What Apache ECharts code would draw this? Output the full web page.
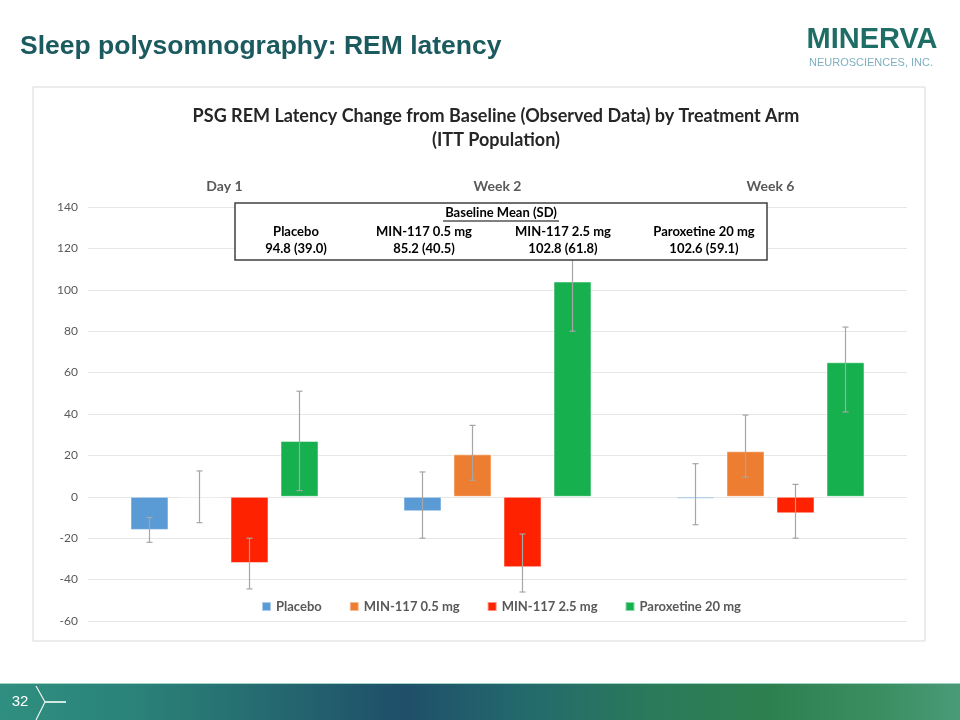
<!DOCTYPE html>
<html><head><meta charset="utf-8">
<script src="https://cdn.jsdelivr.net/npm/echarts@6/dist/echarts.min.js"></script>
<style>html,body{margin:0;padding:0;background:#fff}#c{width:960px;height:720px}</style>
</head><body><div id="c"></div>
<script>
// ---- data ----
const categories = ['Day 1', 'Week 2', 'Week 6'];
const seriesNames = ['Placebo', 'MIN-117 0.5 mg', 'MIN-117 2.5 mg', 'Paroxetine 20 mg'];
const placebo   = [-16, -7, -1];
const min05     = [0, 20.5, 22];
const min25     = [-32, -34, -8];
const paroxetine = [27, 104, 65];
const placeboErrLow  = [-22, -20, -13.5];
const placeboErrHigh = [-10, 12, 16];
const min05ErrLow  = [-12.5, 8, 9.5];
const min05ErrHigh = [12.5, 34.5, 39.5];
const min25ErrLow  = [-44.5, -46, -20];
const min25ErrHigh = [-20, -18, 6];
const paroxErrLow  = [3, 80, 41];
const paroxErrHigh = [51, 128, 82];
const yTicks = [-60, -40, -20, 0, 20, 40, 60, 80, 100, 120, 140];
const baselineHeader = 'Baseline Mean (SD)';
const baselineGroups = ['Placebo', 'MIN-117 0.5 mg', 'MIN-117 2.5 mg', 'Paroxetine 20 mg'];
const baselineValues = ['94.8 (39.0)', '85.2 (40.5)', '102.8 (61.8)', '102.6 (59.1)'];

// ---- build ----
const colors = ['#5b9bd5', '#ed7d31', '#ff2200', '#16b04f'];
const values = [placebo, min05, min25, paroxetine];
const lows = [placeboErrLow, min05ErrLow, min25ErrLow, paroxErrLow];
const highs = [placeboErrHigh, min05ErrHigh, min25ErrHigh, paroxErrHigh];
const FONT = 'Lato, "Open Sans", sans-serif';
const barW = 38, step = 50;

const series = [];
values.forEach((v, i) => {
  series.push({
    name: seriesNames[i], type: 'bar', data: v, barWidth: barW, barGap: '31.6%',
    itemStyle: { color: colors[i], borderColor: 'rgba(255,255,255,0.5)', borderWidth: 1 },
    emphasis: { disabled: true }, z: 2
  });
});
values.forEach((v, i) => {
  const data = categories.map((c, k) => [k, lows[i][k], highs[i][k]]);
  const off = (i - 1.5) * step;
  series.push({
    name: 'err' + i, type: 'custom', z: 5, silent: true,
    encode: { x: 0, y: [1, 2] },
    data: data,
    renderItem: function (params, api) {
      const k = api.value(0);
      const lo = api.coord([k, api.value(1)]);
      const hi = api.coord([k, api.value(2)]);
      const x = lo[0] + off;
      const cap = 3;
      const st = { stroke: '#a6a6a6', lineWidth: 1.2 };
      return { type: 'group', children: [
        { type: 'line', shape: { x1: x, y1: lo[1], x2: x, y2: hi[1] }, style: st },
        { type: 'line', shape: { x1: x - cap, y1: lo[1], x2: x + cap, y2: lo[1] }, style: st },
        { type: 'line', shape: { x1: x - cap, y1: hi[1], x2: x + cap, y2: hi[1] }, style: st }
      ]};
    }
  });
});

// baseline table graphic
const tableX = 235, tableY = 203, tableW = 532, tableH = 57;
const colCenters = [296, 424, 563, 704];
const TZ = { zlevel: 1, z: 100 };
const tableEls = [
  Object.assign({ type: 'rect', shape: { x: tableX, y: tableY, width: tableW, height: tableH },
    style: { fill: '#fff', stroke: '#404040', lineWidth: 1.5 } }, TZ),
  Object.assign({ type: 'text', x: 501, y: 213, style: { text: baselineHeader, font: 'bold 13px ' + FONT, fill: '#000', textAlign: 'center', textVerticalAlign: 'middle' } }, TZ),
  Object.assign({ type: 'line', shape: { x1: 443, y1: 221, x2: 559, y2: 221 }, style: { stroke: '#000', lineWidth: 1 } }, TZ)
];
baselineGroups.forEach((g, i) => {
  tableEls.push(Object.assign({ type: 'text', x: colCenters[i], y: 232, style: { text: g, font: 'bold 13px ' + FONT, fill: '#000', textAlign: 'center', textVerticalAlign: 'middle' } }, TZ));
  tableEls.push(Object.assign({ type: 'text', x: colCenters[i], y: 249, style: { text: baselineValues[i], font: 'bold 13px ' + FONT, fill: '#000', textAlign: 'center', textVerticalAlign: 'middle' } }, TZ));
});

const chart = echarts.init(document.getElementById('c'), null, { renderer: 'canvas' });
chart.setOption({
  animation: false,
  backgroundColor: '#fff',
  grid: { left: 88, right: 53, top: 207, bottom: 99, containLabel: false },
  xAxis: {
    type: 'category', data: categories, position: 'top',
    axisLine: { show: false }, axisTick: { show: false },
    axisLabel: { color: '#595959', fontFamily: FONT, fontWeight: 'bold', fontSize: 14, margin: 14 }
  },
  yAxis: {
    type: 'value', min: yTicks[0], max: yTicks[yTicks.length - 1], interval: 20,
    axisLine: { show: false }, axisTick: { show: false },
    axisLabel: { color: '#595959', fontFamily: FONT, fontSize: 12, margin: 10 },
    splitLine: { lineStyle: { color: '#e6e6e6', width: 1 } }
  },
  legend: {
    data: seriesNames, bottom: 102, left: 256, itemWidth: 9, itemHeight: 9, itemGap: 27,
    icon: 'rect',
    textStyle: { color: '#595959', fontFamily: FONT, fontWeight: 'bold', fontSize: 13 }
  },
  series: series,
  graphic: [
    // chart frame
    { type: 'rect', z: -1, shape: { x: 33, y: 87, width: 892, height: 554 }, style: { fill: 'none', stroke: '#d9d9d9', lineWidth: 1 } },
    // chart title
    { type: 'text', x: 496, y: 116, style: { text: 'PSG REM Latency Change from Baseline (Observed Data) by Treatment Arm', font: 'bold 18px ' + FONT, fill: '#262626', textAlign: 'center', textVerticalAlign: 'middle' } },
    { type: 'text', x: 496, y: 140, style: { text: '(ITT Population)', font: 'bold 18px ' + FONT, fill: '#262626', textAlign: 'center', textVerticalAlign: 'middle' } },
    // slide title
    { type: 'text', x: 20, y: 47, style: { text: 'Sleep polysomnography: REM latency', font: 'bold 26.5px "Liberation Sans", Arial, sans-serif', fill: '#1b5a5e', textVerticalAlign: 'middle' } },
    // logo
    { type: 'text', x: 872, y: 40, style: { text: 'MINERVA', font: 'bold 29px "Liberation Sans Narrow", "Liberation Sans", sans-serif', fill: '#1f6e66', textAlign: 'center', textVerticalAlign: 'middle' } },
    { type: 'text', x: 871, y: 63, style: { text: 'NEUROSCIENCES, INC.', font: '11px "Liberation Sans", sans-serif', fill: '#7fb0c0', textAlign: 'center', textVerticalAlign: 'middle' } },
    // footer band
    { type: 'rect', z: 0, shape: { x: 0, y: 683, width: 960, height: 37 },
      style: { fill: new echarts.graphic.LinearGradient(0, 0, 1, 0, [
        { offset: 0, color: '#2f8f80' }, { offset: 0.15, color: '#2a8178' }, { offset: 0.3, color: '#24666f' },
        { offset: 0.42, color: '#1f4f6a' }, { offset: 0.55, color: '#236a6c' }, { offset: 0.68, color: '#2b7a5a' },
        { offset: 0.8, color: '#2d7f4f' }, { offset: 0.92, color: '#3a8f62' }, { offset: 1, color: '#4a9a78' }]) } },
    { type: 'line', z: 1, shape: { x1: 0, y1: 683.5, x2: 960, y2: 683.5 }, style: { stroke: '#9fd3c4', lineWidth: 1 } },
    { type: 'text', z: 2, x: 20, y: 702, style: { text: '32', font: '15px "Liberation Sans Narrow", "Liberation Sans", sans-serif', fill: '#fff', textAlign: 'center', textVerticalAlign: 'middle' } },
    { type: 'polyline', z: 2, shape: { points: [[36, 686], [45, 702], [36, 720]] }, style: { stroke: '#e8f4f0', lineWidth: 1.2, fill: 'none' } },
    { type: 'line', z: 2, shape: { x1: 45, y1: 702, x2: 66, y2: 702 }, style: { stroke: '#cfe8e0', lineWidth: 2 } }
  ].concat(tableEls)
});
</script></body></html>
